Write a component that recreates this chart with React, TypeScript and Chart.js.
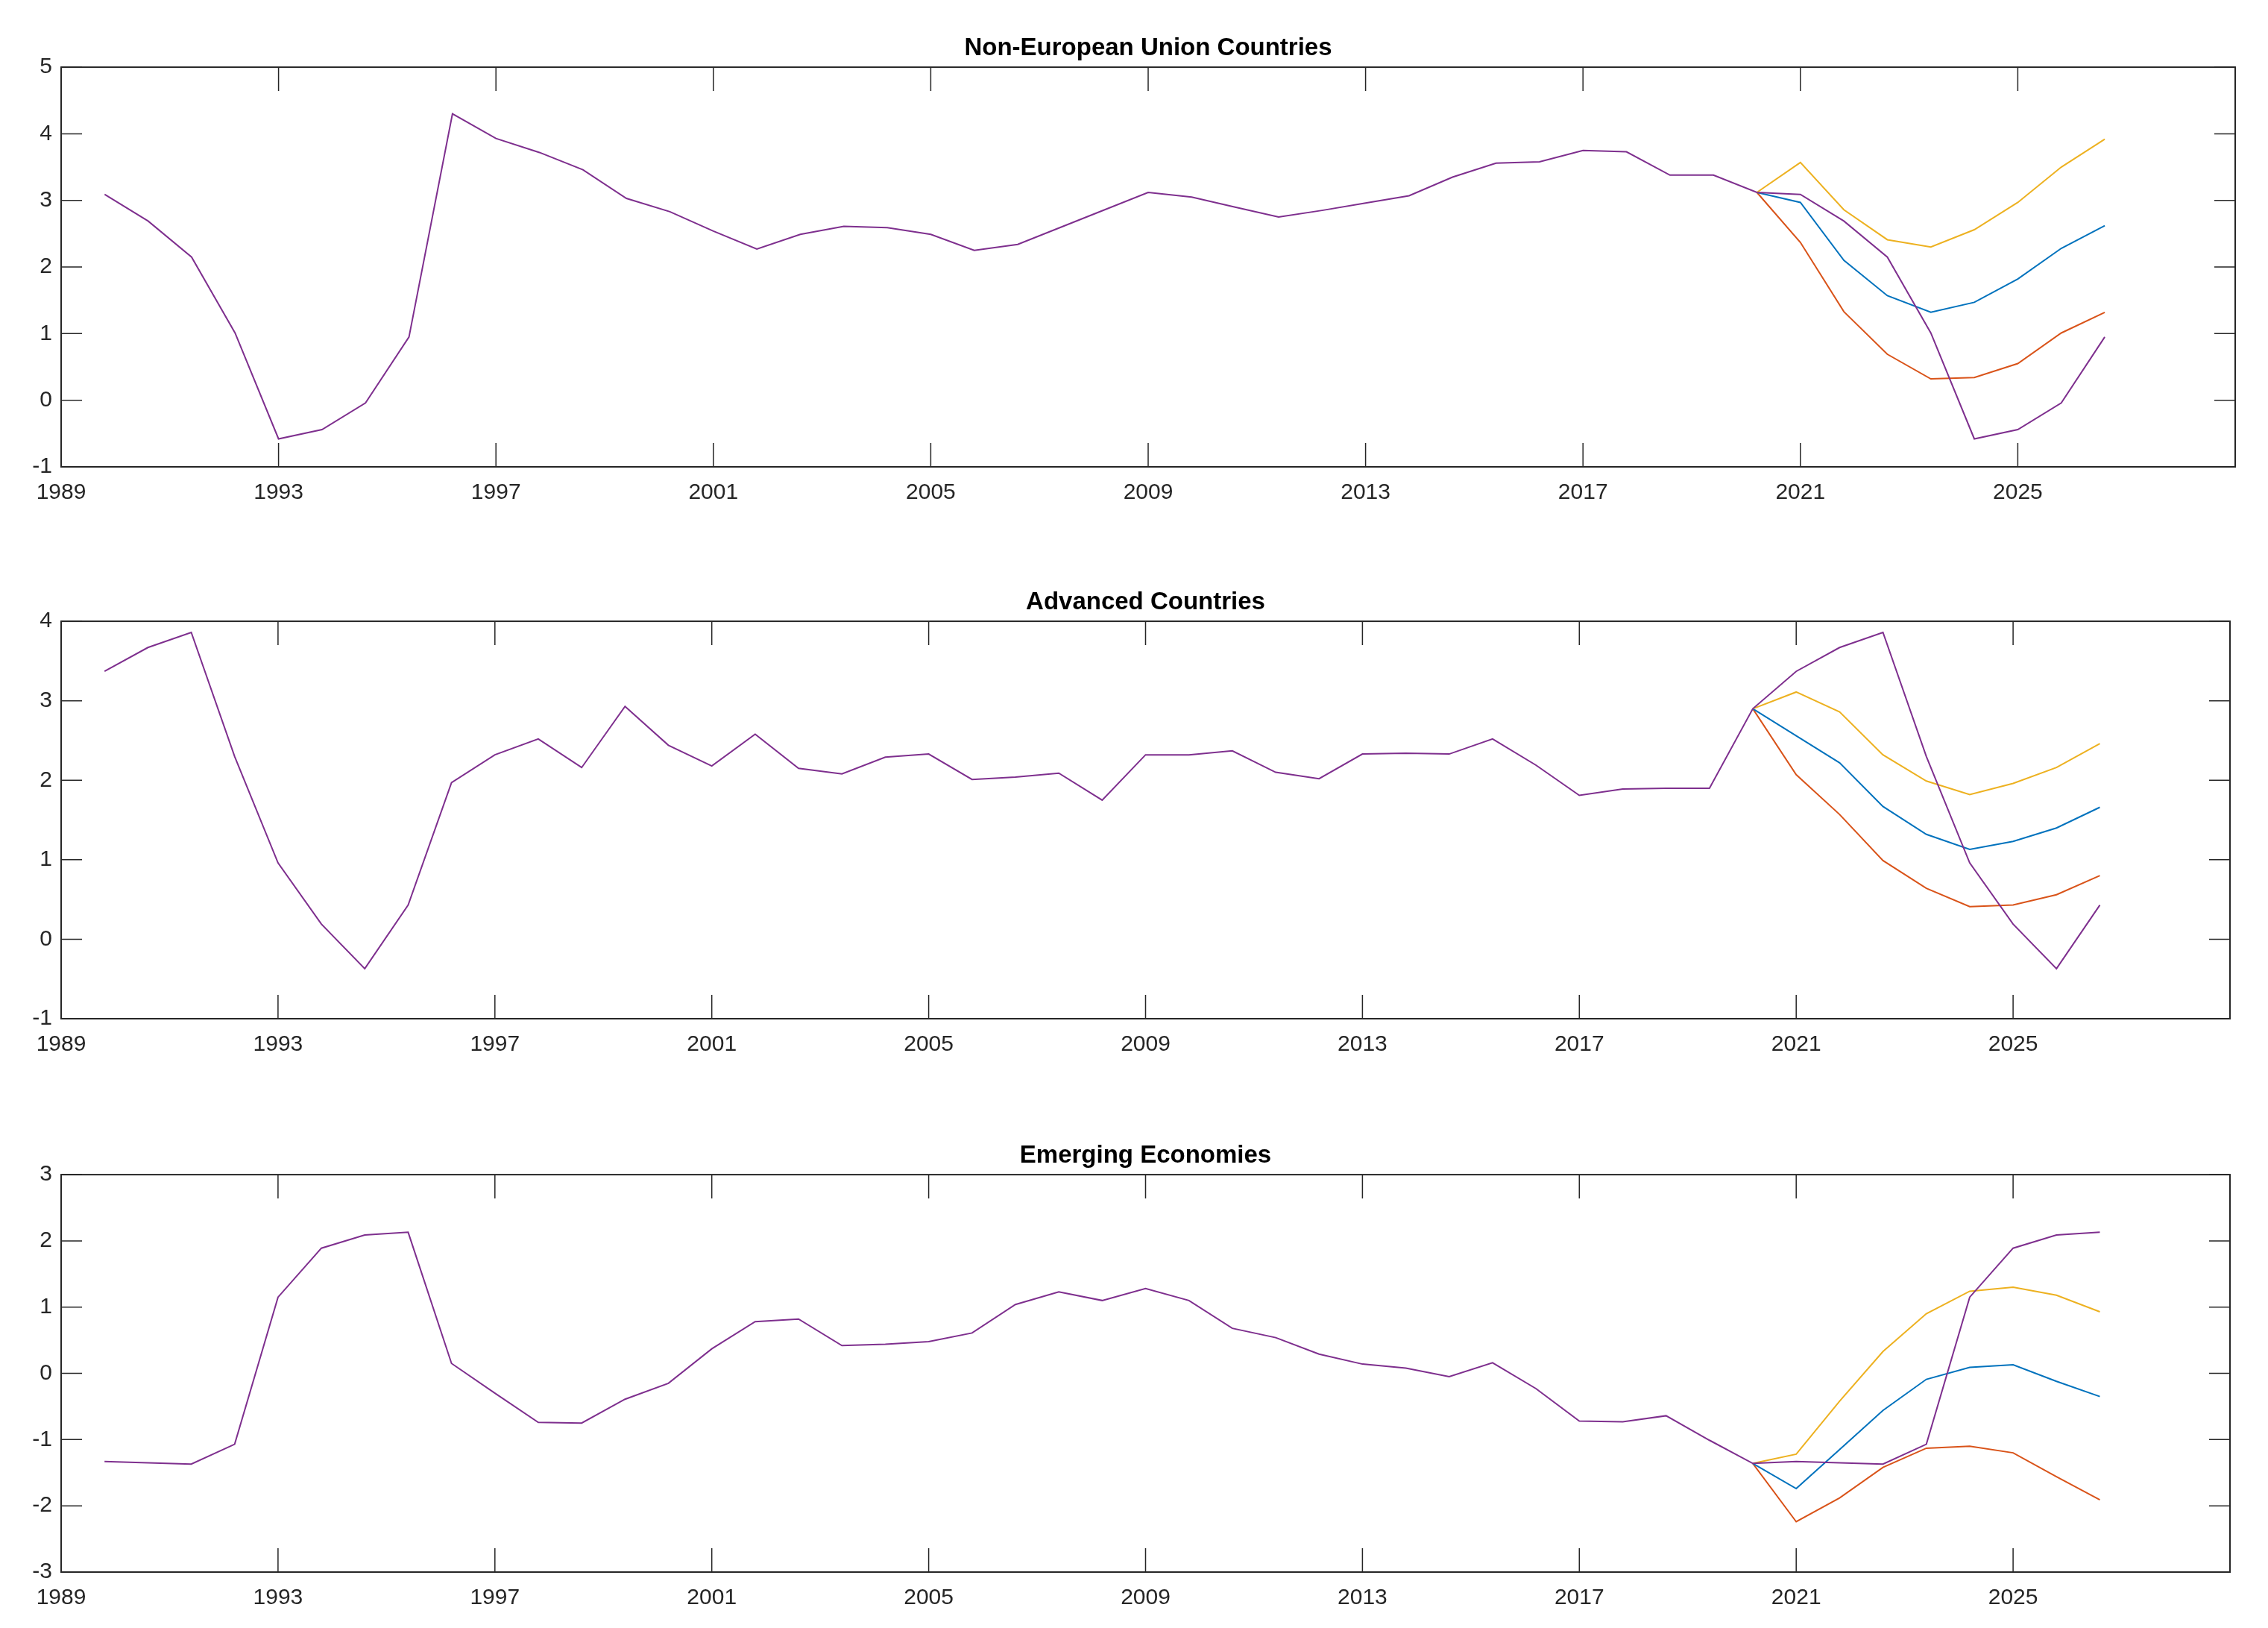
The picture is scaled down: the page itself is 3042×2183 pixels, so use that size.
import React, { useEffect, useRef } from 'react';
import { Chart, registerables } from 'chart.js';

Chart.register(...registerables);

// x axis: observation index 0..50, one tick label every 5 observations
const xTickLabels = ['1989', '1993', '1997', '2001', '2005', '2009', '2013', '2017', '2021', '2025'];
const xTickEvery = 5;
const xMin = 0;
const xMax = 50;
const projectionStart = 39; // index where the three scenario lines start

// Panel 1: Non-European Union Countries
const nonEuBaseline = [3.09, 2.69, 2.15, 1.01, -0.58, -0.44, -0.04, 0.95, 4.30, 3.93, 3.72, 3.46, 3.03, 2.83, 2.54, 2.27, 2.49, 2.61, 2.59, 2.49, 2.25, 2.34, 2.60, 2.86, 3.12, 3.05, 2.90, 2.75, 2.85, 2.96, 3.07, 3.35, 3.56, 3.58, 3.75, 3.73, 3.38, 3.38, 3.12, 3.09, 2.69, 2.15, 1.01, -0.58, -0.44, -0.04, 0.95];
const nonEuHigh = [3.12, 3.57, 2.86, 2.41, 2.30, 2.56, 2.97, 3.50, 3.92];
const nonEuMid = [3.12, 2.97, 2.10, 1.57, 1.32, 1.47, 1.82, 2.28, 2.62];
const nonEuLow = [3.12, 2.37, 1.33, 0.69, 0.32, 0.34, 0.55, 1.01, 1.32];

// Panel 2: Advanced Countries
const advBaseline = [3.37, 3.67, 3.86, 2.30, 0.96, 0.19, -0.37, 0.43, 1.97, 2.32, 2.52, 2.16, 2.93, 2.44, 2.18, 2.58, 2.15, 2.08, 2.29, 2.33, 2.01, 2.04, 2.09, 1.75, 2.32, 2.32, 2.37, 2.10, 2.02, 2.33, 2.34, 2.33, 2.52, 2.19, 1.81, 1.89, 1.90, 1.90, 2.90, 3.37, 3.67, 3.86, 2.30, 0.96, 0.19, -0.37, 0.43];
const advHigh = [2.90, 3.11, 2.86, 2.32, 1.99, 1.82, 1.96, 2.16, 2.46];
const advMid = [2.90, 2.56, 2.22, 1.67, 1.32, 1.13, 1.23, 1.40, 1.66];
const advLow = [2.90, 2.07, 1.57, 0.99, 0.64, 0.41, 0.43, 0.56, 0.80];

// Panel 3: Emerging Economies
const emBaseline = [-1.33, -1.35, -1.37, -1.07, 1.15, 1.89, 2.09, 2.13, 0.15, -0.30, -0.74, -0.75, -0.39, -0.15, 0.37, 0.78, 0.82, 0.42, 0.44, 0.48, 0.61, 1.04, 1.23, 1.10, 1.28, 1.10, 0.68, 0.54, 0.29, 0.14, 0.08, -0.05, 0.16, -0.23, -0.72, -0.73, -0.64, -1.01, -1.36, -1.33, -1.35, -1.37, -1.07, 1.15, 1.89, 2.09, 2.13];
const emHigh = [-1.36, -1.22, -0.42, 0.33, 0.90, 1.24, 1.30, 1.18, 0.93];
const emMid = [-1.36, -1.74, -1.15, -0.56, -0.09, 0.09, 0.13, -0.12, -0.35];
const emLow = [-1.36, -2.24, -1.88, -1.42, -1.13, -1.10, -1.20, -1.56, -1.91];

const COLORS = {
  baseline: '#7E2F8E',
  high: '#EDB120',
  mid: '#0072BD',
  low: '#D95319',
  axis: '#262626',
};

const FONT = "'Liberation Sans', Arial, Helvetica, sans-serif";

const matlabAxes = {
  id: 'matlabAxes',
  afterDatasetsDraw(chart: any) {
    const { ctx, chartArea: a, scales } = chart;
    const x = scales.x;
    const y = scales.y;
    const LX = 32;
    const LY = 28;
    ctx.save();
    ctx.strokeStyle = COLORS.axis;
    ctx.lineWidth = 1.5;
    ctx.beginPath();
    x.ticks.forEach((t: any) => {
      const px = x.getPixelForValue(t.value);
      ctx.moveTo(px, a.bottom);
      ctx.lineTo(px, a.bottom - LX);
      ctx.moveTo(px, a.top);
      ctx.lineTo(px, a.top + LX);
    });
    y.ticks.forEach((t: any) => {
      const py = y.getPixelForValue(t.value);
      ctx.moveTo(a.left, py);
      ctx.lineTo(a.left + LY, py);
      ctx.moveTo(a.right, py);
      ctx.lineTo(a.right - LY, py);
    });
    ctx.stroke();
    ctx.lineWidth = 2;
    ctx.strokeRect(a.left, a.top, a.right - a.left, a.bottom - a.top);
    ctx.restore();
  },
};

type PanelProps = {
  title: string;
  baseline: number[];
  high: number[];
  mid: number[];
  low: number[];
  yMin: number;
  yMax: number;
  top: number;
  height: number;
  rightPad: number;
};

function Panel({ title, baseline, high, mid, low, yMin, yMax, top, height, rightPad }: PanelProps) {
  const ref = useRef<HTMLCanvasElement | null>(null);
  useEffect(() => {
    if (!ref.current) return;
    const line = (label: string, values: number[], start: number, color: string) => ({
      label,
      data: values.map((v, i) => ({ x: start + i, y: v })),
      borderColor: color,
      backgroundColor: color,
      borderWidth: 2,
      pointRadius: 0,
      tension: 0,
      fill: false,
    });
    const chart = new Chart(ref.current, {
      type: 'line',
      data: {
        datasets: [
          line('Baseline', baseline, 1, COLORS.baseline),
          line('High', high, projectionStart, COLORS.high),
          line('Central', mid, projectionStart, COLORS.mid),
          line('Low', low, projectionStart, COLORS.low),
        ],
      },
      options: {
        responsive: false,
        animation: false,
        events: [],
        layout: { padding: { top: 45.5, bottom: 14, left: 0, right: rightPad } },
        plugins: {
          legend: { display: false },
          tooltip: { enabled: false },
          title: {
            display: true,
            fullSize: false,
            text: title,
            color: '#000',
            font: { family: FONT, size: 33, weight: 'bold', lineHeight: 1.2 },
            padding: { top: 0, bottom: 5 },
          },
        },
        scales: {
          x: {
            type: 'linear',
            min: xMin,
            max: xMax,
            grid: { display: false, drawTicks: false },
            border: { display: false },
            ticks: {
              stepSize: xTickEvery,
              autoSkip: false,
              maxRotation: 0,
              minRotation: 0,
              padding: 17,
              color: COLORS.axis,
              font: { family: FONT, size: 30 },
              callback: (v: any) => {
                const k = Math.round(Number(v) / xTickEvery);
                return xTickLabels[k] ?? '';
              },
            },
            afterFit: (s: any) => {
              s.height = 60;
            },
          },
          y: {
            type: 'linear',
            min: yMin,
            max: yMax,
            grid: { display: false, drawTicks: false },
            border: { display: false },
            ticks: {
              stepSize: 1,
              padding: 12,
              color: COLORS.axis,
              font: { family: FONT, size: 30 },
              callback: (v: any) => String(v),
            },
            afterFit: (s: any) => {
              s.width = 82;
            },
          },
        },
      },
      plugins: [matlabAxes],
    } as any);
    return () => chart.destroy();
  }, []);
  return (
    <canvas
      ref={ref}
      width={3042}
      height={height}
      style={{ position: 'absolute', left: 0, top, width: 3042, height }}
    />
  );
}

export default function App() {
  return (
    <div
      style={{
        position: 'fixed',
        left: 0,
        top: 0,
        width: 3042,
        height: 2183,
        background: '#fff',
        overflow: 'hidden',
      }}
    >
      <Panel title="Non-European Union Countries" baseline={nonEuBaseline} high={nonEuHigh} mid={nonEuMid} low={nonEuLow} yMin={-1} yMax={5} top={0} height={700} rightPad={44} />
      <Panel title="Advanced Countries" baseline={advBaseline} high={advHigh} mid={advMid} low={advLow} yMin={-1} yMax={4} top={743} height={697} rightPad={51} />
      <Panel title="Emerging Economies" baseline={emBaseline} high={emHigh} mid={emMid} low={emLow} yMin={-3} yMax={3} top={1485} height={697} rightPad={51} />
    </div>
  );
}
